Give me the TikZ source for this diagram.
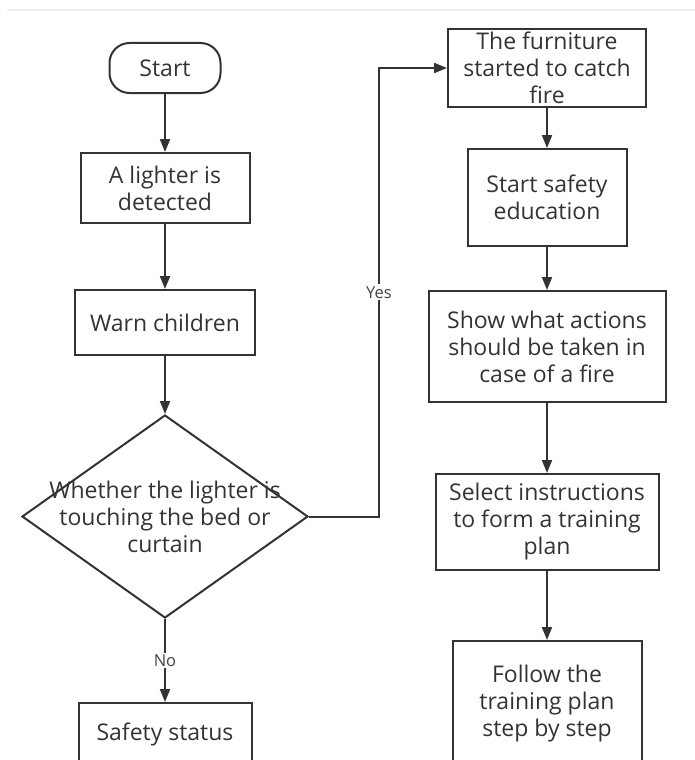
\documentclass[tikz,border=0pt]{standalone}
\usepackage{fontspec}
\setmainfont{Open Sans}
\usetikzlibrary{shapes.geometric,arrows.meta}

\definecolor{ink}{HTML}{333333}
\definecolor{labelink}{HTML}{444444}
\definecolor{rule}{HTML}{EEEEEE}

\tikzset{
  stepbox/.style={draw=ink, line width=2pt, text=ink, align=center,
    inner sep=0pt, font=\fontsize{23}{27}\selectfont},
  terminal/.style={stepbox, rounded corners=20pt},
  decision/.style={draw=ink, line width=2pt, diamond, inner sep=0pt},
  dectext/.style={text=ink, align=center, inner sep=0pt,
    font=\fontsize{23}{27}\selectfont},
  flow/.style={draw=ink, line width=2pt, -{Triangle[length=13pt,width=10pt]}},
  lbl/.style={fill=white, text=labelink, inner sep=2pt,
    font=\fontsize{16.5}{18}\selectfont},
}

\begin{document}
\begin{tikzpicture}[x=1pt, y=-1pt]
  \useasboundingbox (0,0) rectangle (695,760);
  \clip (0,0) rectangle (695,760);

  % thin separator along the top edge
  \draw[rule, line width=2pt] (7,10) -- (695,10);

  % left column
  \node[terminal, minimum width=111pt, minimum height=50pt] (start) at (165,68) {Start};
  \node[stepbox, minimum width=169pt, minimum height=70pt] (detect) at (165,188)
    {A lighter is\\detected};
  \node[stepbox, minimum width=180pt, minimum height=65pt] (warn) at (165,322.5)
    {Warn children};
  \node[decision, minimum width=286pt, minimum height=203pt] (dec) at (165,516.5) {};
  \node[dectext] (dect) at (dec.center)
    {Whether the lighter is\\touching the bed or\\curtain};
  \node[stepbox, minimum width=173pt, minimum height=62pt] (safe) at (165,734)
    {Safety status};

  % right column
  \node[stepbox, minimum width=198pt, minimum height=78pt] (furn) at (547,68)
    {The furniture\\started to catch\\fire};
  \node[stepbox, minimum width=159pt, minimum height=97pt] (edu) at (547,197.5)
    {Start safety\\education};
  \node[stepbox, minimum width=237pt, minimum height=111pt] (show) at (547,346.5)
    {Show what actions\\should be taken in\\case of a fire};
  \node[stepbox, minimum width=223pt, minimum height=96pt] (select) at (547,522)
    {Select instructions\\to form a training\\plan};
  \node[stepbox, minimum width=189pt, minimum height=126pt] (follow) at (547,704)
    {Follow the\\training plan\\step by step};

  \coordinate (yescorner) at (379,68);

  % connectors
  \draw[flow] (start) -- (detect);
  \draw[flow] (detect) -- (warn);
  \draw[flow] (warn) -- (dec.north);
  \draw[flow] (dec.south) -- node[lbl] {No} (safe);
  \draw[flow] (dec.east) -| node[lbl, pos=0.75] {Yes} (yescorner) -- (furn.west);
  \draw[flow] (furn) -- (edu);
  \draw[flow] (edu) -- (show);
  \draw[flow] (show) -- (select);
  \draw[flow] (select) -- (follow);
\end{tikzpicture}
\end{document}
